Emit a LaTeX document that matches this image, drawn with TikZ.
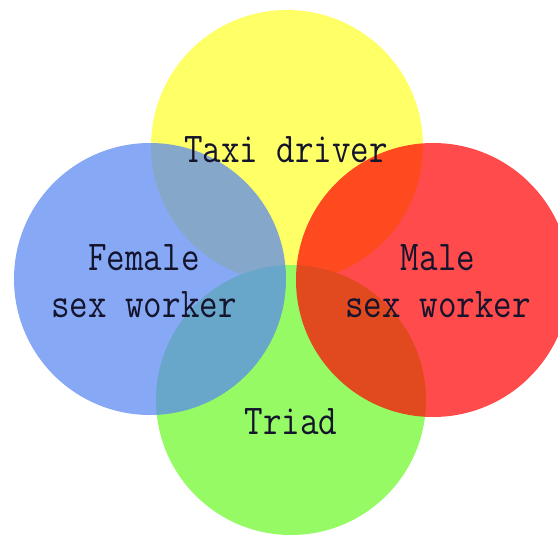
\documentclass[tikz,border=0pt]{standalone}
\definecolor{taxiyellow}{RGB}{255,255,102}
\definecolor{triadgreen}{RGB}{150,250,100}
\definecolor{femaleblue}{RGB}{87,135,241}
\definecolor{malered}{RGB}{255,5,5}
\definecolor{inkcol}{RGB}{20,20,45}
\newcommand{\tallword}[1]{\scalebox{1}[1.18]{#1}}
\begin{document}
\begin{tikzpicture}[x=1pt, y=-1pt,
    groupname/.style={font=\ttfamily\fontsize{36}{47}\selectfont, text=inkcol, align=center, inner sep=0pt, anchor=base},
    upper/.style={fill opacity=0.72}]
    \useasboundingbox (0,0) rectangle (558,538);
    \clip (0,0) rectangle (558,538);
    % Circles
    \fill[taxiyellow] (287,146) circle[radius=136];
    \fill[triadgreen] (291,400) circle[radius=135];
    \fill[femaleblue, upper] (150,279) circle[radius=136];
    \fill[malered, upper] (433,280) circle[radius=137];
    % Labels
    \node[groupname] (taxi) at (286,162) {\tallword{Taxi driver}};
    \node[groupname] (female) at (144,317) {\tallword{Female}\\\tallword{sex worker}};
    \node[groupname] (male) at (438,317) {\tallword{Male}\\\tallword{sex worker}};
    \node[groupname] (triad) at (291,434) {\tallword{Triad}};
\end{tikzpicture}
\end{document}
